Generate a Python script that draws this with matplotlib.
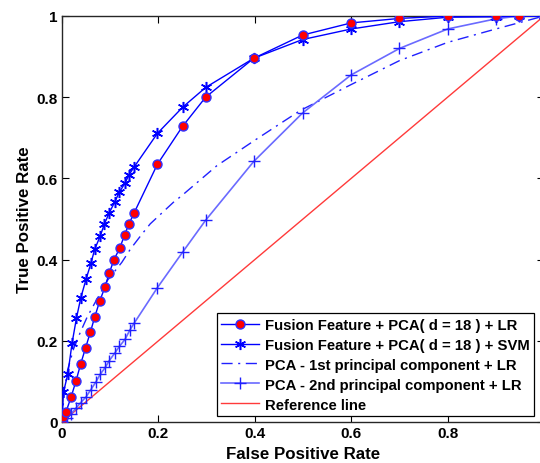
import matplotlib
matplotlib.use("Agg")
import matplotlib.pyplot as plt

plt.rcParams['font.family'] = ['Liberation Sans', 'DejaVu Sans']
plt.rcParams['font.weight'] = 'bold'

# ---- data ----
lr_fpr = [0, 0.003, 0.008, 0.019, 0.029, 0.039, 0.049, 0.059, 0.068, 0.078, 0.089, 0.098,
          0.108, 0.120, 0.130, 0.139, 0.150, 0.198, 0.250, 0.298, 0.398, 0.499, 0.600,
          0.700, 0.800, 0.900, 0.948, 1.0]
lr_tpr = [0, 0.012, 0.024, 0.062, 0.101, 0.144, 0.183, 0.222, 0.259, 0.297, 0.332, 0.367,
          0.400, 0.429, 0.461, 0.488, 0.516, 0.635, 0.728, 0.800, 0.896, 0.953, 0.983,
          0.994, 1.0, 1.0, 1.0, 1.0]

svm_fpr = [0, 0.003, 0.012, 0.021, 0.030, 0.039, 0.050, 0.060, 0.068, 0.079, 0.088, 0.098,
           0.109, 0.119, 0.131, 0.139, 0.149, 0.198, 0.250, 0.298, 0.398, 0.499, 0.600,
           0.700, 0.800, 0.900, 0.948, 1.0]
svm_tpr = [0, 0.073, 0.118, 0.195, 0.256, 0.306, 0.352, 0.391, 0.426, 0.457, 0.488, 0.515,
           0.541, 0.566, 0.589, 0.609, 0.627, 0.711, 0.775, 0.824, 0.896, 0.942, 0.968,
           0.986, 0.997, 0.998, 1.0, 1.0]

pca1_fpr = [0, 0.005, 0.012, 0.024, 0.038, 0.052, 0.069, 0.095, 0.124, 0.142, 0.166, 0.183,
            0.231, 0.248, 0.321, 0.400, 0.494, 0.598, 0.700, 0.800, 0.900, 1.0]
pca1_tpr = [0, 0.080, 0.130, 0.180, 0.221, 0.258, 0.295, 0.350, 0.393, 0.426, 0.463, 0.488,
            0.541, 0.557, 0.631, 0.694, 0.767, 0.830, 0.890, 0.935, 0.968, 1.0]

pca2_fpr = [0, 0.010, 0.019, 0.029, 0.039, 0.050, 0.060, 0.070, 0.079, 0.090, 0.098, 0.109,
            0.119, 0.131, 0.141, 0.150, 0.198, 0.250, 0.298, 0.398, 0.499, 0.600, 0.700,
            0.800, 0.900, 0.948, 1.0]
pca2_tpr = [0, 0.010, 0.020, 0.034, 0.048, 0.062, 0.080, 0.098, 0.117, 0.135, 0.151, 0.169,
            0.186, 0.204, 0.227, 0.244, 0.331, 0.418, 0.497, 0.642, 0.761, 0.855, 0.920,
            0.968, 0.993, 1.0, 1.0]

ref_fpr = [0, 1]
ref_tpr = [0, 1]

labels = ['Fusion Feature + PCA( d = 18 ) + LR',
          'Fusion Feature + PCA( d = 18 ) + SVM',
          'PCA - 1st principal component + LR',
          'PCA - 2nd principal component + LR',
          'Reference line']
xticks = [0, 0.2, 0.4, 0.6, 0.8, 1.0]
xticklabels = ['0', '0.2', '0.4', '0.6', '0.8', '']
yticks = [0, 0.2, 0.4, 0.6, 0.8, 1.0]
yticklabels = ['0', '0.2', '0.4', '0.6', '0.8', '1']

fig = plt.figure(figsize=(5.4, 4.64), dpi=100)
ax = fig.add_axes([62 / 540, 41 / 464, 482 / 540, 406 / 464])

ax.plot(lr_fpr, lr_tpr, color='#0000ff', lw=1.0, marker='o', ms=6.5,
        mfc='#ff0000', mec='#3030ff', mew=1.0, label=labels[0], zorder=5)
ax.plot(svm_fpr, svm_tpr, color='#0000ff', lw=1.0, marker=(6, 2, 0), ms=8,
        mec='#0000ff', mew=1.1, label=labels[1], zorder=4)
ax.plot(pca1_fpr, pca1_tpr, color='#2020ff', lw=1.0, ls=(0, (8, 4, 1.5, 4)),
        label=labels[2], zorder=3)
ax.plot(pca2_fpr, pca2_tpr, color='#6a6aff', lw=1.2, marker='+', ms=8, mew=1.0,
        mec='#2020ff', label=labels[3], zorder=3)
ax.plot(ref_fpr, ref_tpr, color='#ff3a3a', lw=1.0, label=labels[4], zorder=2)

ax.set_xlim(0, 1)
ax.set_ylim(0, 1)
ax.set_xticks(xticks)
ax.set_xticklabels(xticklabels, fontweight='bold')
ax.set_yticks(yticks)
ax.set_yticklabels(yticklabels, fontweight='bold')
ax.tick_params(direction='in', length=5, width=0.8, top=True, right=True,
               labelsize=11, pad=3)
for s in ax.spines.values():
    s.set_linewidth(1.0)
    s.set_color('#262626')

ax.set_xlabel('False Positive Rate', fontsize=12.2, fontweight='bold', labelpad=4)
ax.set_ylabel('True Positive Rate', fontsize=12.2, fontweight='bold', labelpad=3)

leg = ax.legend(loc='lower left', bbox_to_anchor=(217 / 540, 47 / 464),
                bbox_transform=fig.transFigure, borderaxespad=0,
                fancybox=False, framealpha=1, edgecolor='black',
                prop={'weight': 'bold', 'size': 10.7}, handlelength=2.5,
                labelspacing=0.4, handletextpad=0.4, borderpad=0.3)
leg.get_frame().set_linewidth(0.9)

fig.savefig('out.png', dpi=100)
